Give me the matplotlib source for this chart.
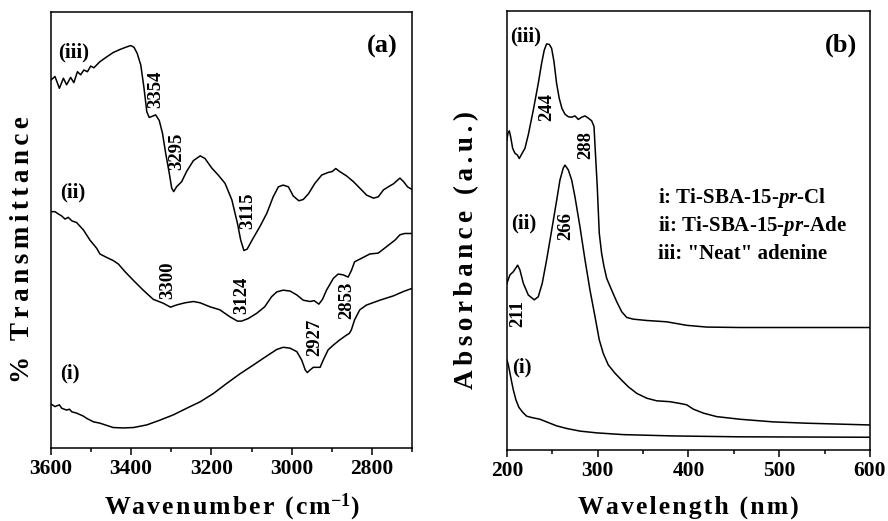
import matplotlib
matplotlib.use("Agg")
import matplotlib.pyplot as plt

plt.rcParams["font.family"] = ["Liberation Serif", "DejaVu Serif"]
plt.rcParams["font.weight"] = "bold"
plt.rcParams["axes.labelweight"] = "bold"
plt.rcParams["mathtext.fontset"] = "custom"
plt.rcParams["mathtext.rm"] = "Liberation Serif:bold"
plt.rcParams["mathtext.bf"] = "Liberation Serif:bold"
plt.rcParams["mathtext.it"] = "Liberation Serif:italic:bold"
plt.rcParams["mathtext.bfit"] = "Liberation Serif:italic:bold"

# FTIR spectra (a): wavenumber in cm-1, transmittance in arbitrary offset units
wn_i = [3600, 3590, 3579, 3573, 3561, 3554, 3548, 3536, 3519, 3511, 3494, 3478, 3445, 3420,
        3394, 3361, 3328, 3295, 3262, 3228, 3195, 3162, 3129, 3096, 3062, 3037, 3021, 3004,
        2987, 2975, 2966, 2961, 2954, 2946, 2937, 2929, 2921, 2909, 2896, 2880, 2863, 2856,
        2851, 2843, 2830, 2813, 2780, 2746, 2721, 2700]
tr_i = [10.1, 9.5, 9.9, 9.1, 8.7, 8.9, 8.3, 8.0, 7.3, 6.8, 6.0, 5.7, 4.7, 4.6,
        4.7, 5.3, 6.4, 7.6, 9.1, 10.6, 12.5, 14.8, 17.0, 19.0, 21.1, 22.6, 23.1, 22.9,
        22.1, 20.2, 17.9, 17.3, 17.9, 18.5, 18.5, 18.5, 20.2, 22.5, 23.6, 24.8, 25.9, 26.3,
        27.1, 29.4, 31.7, 32.8, 33.9, 34.9, 35.9, 36.6]

wn_ii = [3600, 3590, 3582, 3573, 3565, 3557, 3548, 3536, 3519, 3503, 3486, 3478, 3461, 3445,
         3432, 3415, 3394, 3370, 3345, 3320, 3302, 3287, 3266, 3245, 3228, 3204, 3179, 3154,
         3135, 3125, 3108, 3087, 3067, 3050, 3037, 3021, 3004, 2987, 2971, 2954, 2944, 2932,
         2923, 2913, 2896, 2884, 2871, 2859, 2851, 2843, 2826, 2805, 2784, 2763, 2742, 2730,
         2718, 2700]
tr_ii = [54.2, 54.2, 53.7, 53.2, 52.5, 52.9, 52.1, 51.7, 50.0, 47.7, 45.8, 44.5, 43.7, 43.0,
         42.2, 40.4, 38.4, 36.2, 34.1, 33.2, 32.3, 32.8, 33.3, 33.6, 33.3, 32.4, 31.7, 30.1,
         29.1, 29.1, 29.7, 30.9, 32.4, 34.7, 35.8, 36.2, 36.0, 35.1, 33.9, 33.6, 33.8, 33.0,
         34.1, 36.2, 38.9, 39.9, 39.7, 39.2, 40.7, 42.7, 43.5, 44.5, 44.7, 46.2, 47.7, 48.9,
         49.2, 49.2]

wn_iii = [3600, 3590, 3579, 3569, 3561, 3551, 3543, 3534, 3526, 3518, 3509, 3501, 3493, 3478,
          3461, 3445, 3428, 3411, 3401, 3393, 3385, 3376, 3368, 3361, 3355, 3347, 3339, 3330,
          3322, 3314, 3305, 3299, 3294, 3287, 3274, 3262, 3245, 3228, 3216, 3199, 3183, 3166,
          3149, 3135, 3127, 3119, 3111, 3096, 3079, 3062, 3046, 3033, 3021, 3008, 2996, 2982,
          2971, 2958, 2942, 2925, 2909, 2899, 2890, 2880, 2863, 2846, 2830, 2813, 2796, 2784,
          2771, 2759, 2746, 2730, 2721, 2711, 2700]
tr_iii = [84.4, 85.2, 82.5, 84.8, 83.3, 85.0, 83.8, 86.3, 85.6, 86.7, 86.3, 87.6, 87.2, 88.6,
          89.7, 90.7, 91.4, 92.0, 92.3, 91.9, 90.5, 87.8, 82.5, 77.1, 75.8, 76.1, 76.4, 75.1,
          72.2, 67.6, 63.0, 59.6, 58.8, 59.9, 61.1, 63.4, 65.9, 67.0, 66.4, 64.2, 62.6, 60.7,
          56.9, 51.5, 47.7, 45.3, 45.6, 48.1, 50.8, 53.8, 57.6, 59.9, 60.3, 59.9, 57.8, 56.7,
          57.0, 58.3, 60.7, 62.6, 63.2, 63.4, 64.1, 63.4, 62.4, 61.1, 59.6, 58.0, 57.3, 57.6,
          59.2, 59.9, 60.6, 61.9, 61.1, 59.9, 59.3]

# band labels: (text, wavenumber, height)
ir_peaks = [("3354", 3340, 82.3), ("3295", 3286, 68.1), ("3115", 3109, 54.4),
            ("3300", 3308, 38.4), ("3124", 3124, 35.1), ("2927", 2942, 25.5),
            ("2853", 2862, 33.8)]
ir_names = [("(iii)", 3583, 90.8), ("(ii)", 3578, 58.5), ("(i)", 3578, 17.0)]

# UV-vis spectra (b): wavelength in nm, absorbance in arbitrary offset units
nm_i = [200, 201.5, 203.3, 205.1, 207, 209.9, 213.2, 217.3, 221.7, 227.2, 236.4, 243.7,
        254.7, 265.8, 280.5, 298.9, 328.2, 383.3, 456.8, 600]
ab_i = [20.5, 19.4, 17.5, 15.6, 13.7, 11.4, 9.7, 8.6, 7.7, 7.4, 7.0, 6.4,
        5.5, 4.9, 4.3, 3.9, 3.5, 3.2, 3.0, 2.9]

nm_ii = [200, 203.3, 207, 211.8, 214.3, 218, 223.5, 230.1, 234.5, 238.9, 243.7, 249.3,
         254.8, 258.4, 262, 263.9, 267.6, 271.3, 274.9, 280.4, 286, 291.5, 297, 301.7,
         306.1, 311.6, 319, 326.4, 333.7, 343, 354, 365, 379.6, 390.7, 398, 405.4,
         416.4, 431.1, 456.8, 493.5, 530.3, 600]
ab_ii = [38.0, 39.9, 40.6, 42.1, 41.0, 38.0, 35.3, 34.2, 34.9, 38.0, 43.3, 50.1,
         56.9, 61.5, 64.2, 64.9, 63.8, 61.5, 57.7, 50.9, 43.3, 36.4, 30.4, 25.1,
         22.0, 19.4, 17.5, 15.9, 14.4, 12.9, 11.8, 11.2, 11.0, 10.6, 10.3, 9.3,
         8.4, 7.6, 7.0, 6.4, 6.1, 5.7]

nm_iii = [200, 201, 202.6, 204, 206.3, 208.8, 211.4, 213.6, 216.2, 219.8, 223.5, 229,
          234.5, 238.2, 241.1, 243.7, 246.6, 249.2, 251.8, 254.7, 257.6, 260.6, 263.9, 267.6,
          271.3, 274.9, 278.6, 282.3, 286, 289.6, 293.3, 295.9, 297.3, 299.5, 301.7, 304.3,
          306.9, 309.9, 315.4, 320.9, 326.4, 331.9, 339.2, 354, 376, 398, 420, 456.8, 600]
ab_iii = [70.6, 72.1, 72.7, 71.4, 68.7, 67.6, 67.2, 66.4, 67.4, 68.7, 71.8, 77.4,
          83.5, 88.1, 91.1, 92.5, 92.4, 91.5, 88.5, 83.5, 80.1, 77.8, 76.5, 75.9,
          75.8, 76.1, 75.3, 75.8, 76.1, 75.6, 75.0, 73.7, 68.3, 60.0, 49.4, 44.8,
          41.8, 39.1, 36.4, 33.8, 31.5, 30.2, 29.8, 29.5, 29.2, 28.4, 28.0, 27.9, 27.9]

uv_peaks = [("244", 244, 78.1), ("288", 287, 69.5), ("266", 265, 51.0), ("211", 211.5, 31.2)]
uv_names = [("(iii)", 203, 94.1), ("(ii)", 205, 51.5), ("(i)", 206, 18.9)]
samples = ["i: Ti-SBA-15-$\\mathbfit{pr}$-Cl",
           "ii: Ti-SBA-15-$\\mathbfit{pr}$-Ade",
           'iii: "Neat" adenine']


def spaced(s, n=1):
    # widen the letter spacing of axis titles
    return ("\u200a" * n).join(s)


fig = plt.figure(figsize=(8.88, 5.21), dpi=100)
ax1 = fig.add_axes([0.0574, 0.1401, 0.4065, 0.8369])
ax2 = fig.add_axes([0.5709, 0.1363, 0.4088, 0.8426])

for x, y in [(wn_i, tr_i), (wn_ii, tr_ii), (wn_iii, tr_iii)]:
    ax1.plot(x, y, color="black", lw=1.1)
ax1.set_xlim(3600, 2700)
ax1.set_ylim(0, 100)
ax1.set_xticks([3600, 3400, 3200, 3000, 2800])
ax1.set_xticks(range(3500, 2600, -200), minor=True)
for t, x, y in ir_peaks:
    ax1.text(x, y, t, rotation=90, ha="center", va="center", fontsize=13.5)
for t, x, y in ir_names:
    ax1.text(x, y, t, ha="left", va="center", fontsize=15)
ax1.text(0.961, 0.92, "(a)", transform=ax1.transAxes, ha="right", va="center", fontsize=19)
ax1.set_xlabel(spaced("Wavenumber (cm") + "$^{-1}$)", fontsize=18.5, va="center")
ax1.xaxis.set_label_coords(0.5, -0.135)
ax1.set_ylabel(spaced("% Transmittance", 2), fontsize=19.5, va="center")
ax1.yaxis.set_label_coords(-0.080, 0.454)

for x, y in [(nm_i, ab_i), (nm_ii, ab_ii), (nm_iii, ab_iii)]:
    ax2.plot(x, y, color="black", lw=1.1)
ax2.set_xlim(200, 600)
ax2.set_ylim(0, 100)
ax2.set_xticks([200, 300, 400, 500, 600])
ax2.set_xticks([250, 350, 450, 550], minor=True)
for t, x, y in uv_peaks:
    ax2.text(x, y, t, rotation=90, ha="center", va="center", fontsize=13.5)
for t, x, y in uv_names:
    ax2.text(x, y, t, ha="left", va="center", fontsize=15)
for k, t in enumerate(samples):
    ax2.text(0.416, 0.574 - 0.064 * k, t, transform=ax2.transAxes, ha="left", va="center", fontsize=15)
ax2.text(0.964, 0.922, "(b)", transform=ax2.transAxes, ha="right", va="center", fontsize=19)
ax2.set_xlabel(spaced("Wavelength (nm)"), fontsize=18.5, va="center")
ax2.xaxis.set_label_coords(0.5, -0.130)
ax2.set_ylabel(spaced("Absorbance (a.u.)", 2), fontsize=19.5, va="center")
ax2.yaxis.set_label_coords(-0.1116, 0.4556)

for ax in (ax1, ax2):
    ax.set_yticks([])
    for s in ax.spines.values():
        s.set_linewidth(1.1)
    ax.tick_params(axis="x", which="major", direction="out", length=5, width=1.1,
                   labelsize=15.5, pad=3)
    ax.tick_params(axis="x", which="minor", direction="out", length=3, width=1.1)

fig.savefig("out.png", dpi=100)
